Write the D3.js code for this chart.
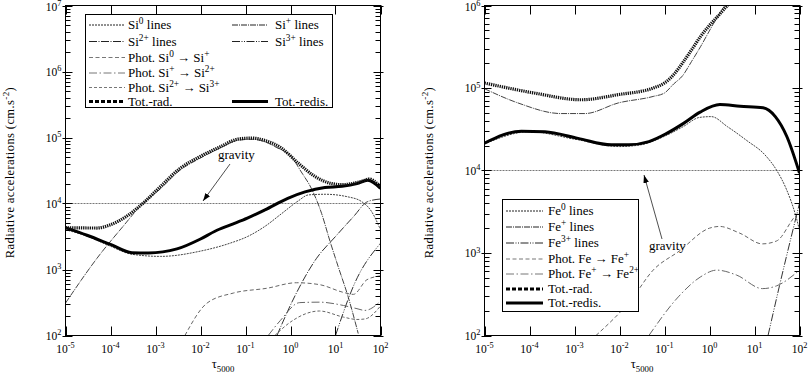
<!DOCTYPE html>
<html>
<head>
<meta charset="utf-8">
<script src="https://cdn.jsdelivr.net/npm/d3@7"></script>
<style>
  body { margin: 0; background: #fff; }
  svg { display: block; }
</style>
</head>
<body>
<svg id="chart" width="809" height="378"></svg>
<script>
// x axis: optical depth tau_5000, both panels
const tauTicks = [1e-5, 1e-4, 1e-3, 1e-2, 1e-1, 1e0, 1e1, 1e2];
const siTicks = [1e2, 1e3, 1e4, 1e5, 1e6, 1e7];
const feTicks = [1e2, 1e3, 1e4, 1e5, 1e6];
const gravity = 1e4;

// Si panel, [tau, g_rad] pairs
const siTotRad = [[1e-5,4300],[5e-5,4250],[9.5e-5,4700],[2.2e-4,6300],[5.2e-4,10000],[1.26e-3,17800],[3.5e-3,34000],[9.5e-3,51000],[2.7e-2,72000],[7e-2,95000],[0.14,98000],[0.27,90000],[0.63,69000],[1.48,41000],[3.5,25700],[8.3,20000],[14,19300],[32,21000],[45,22500],[55,23500],[100,18000]];
const siTotRedis = [[1e-5,4300],[3e-5,3300],[1e-4,2400],[3e-4,1800],[7e-4,1780],[3e-3,2050],[1e-2,2900],[2.1e-2,3800],[4.5e-2,4700],[0.11,6000],[0.27,8000],[0.87,12000],[2.1,15000],[5.8,17500],[14,18200],[30,20000],[52,22500],[100,17000]];
const siLines0 = [[1e-5,4000],[3e-5,3200],[1e-4,2250],[3e-4,1700],[1.3e-3,1580],[1e-2,1900],[4.5e-2,2500],[0.11,3150],[0.27,4500],[0.63,7000],[1.5,11000],[2.5,13500],[5.9,13800],[19,12600],[38,10700],[63,7600],[100,4000]];
const siLines1 = [[1e-5,310],[5.7e-5,1660],[1.9e-4,4500],[4.5e-4,9000],[1.26e-3,16500],[3.5e-3,32000],[9.5e-3,48000],[2.7e-2,69000],[7e-2,91000],[0.14,94000],[0.27,86000],[0.5,70000],[1.05,51000],[1.74,30000],[2.9,17000],[4.9,7100],[7.4,2800],[11.5,1100],[19,390],[32,107]];
const siLines2 = [[0.5,100],[1.26,400],[3.8,1480],[10,3160],[25,6300],[52,10700],[100,11700]];
const siLines3 = [[10,100],[27,630],[100,2500]];
const siPhot01 = [[4.5e-3,100],[1.4e-2,310],[5.4e-2,440],[0.3,520],[1.35,630],[4.4,590],[15,450],[25,420],[50,700],[100,800]];
const siPhot12 = [[0.32,100],[0.6,170],[1.6,315],[4.4,320],[15,285],[30,255],[45,240],[100,330]];
const siPhot23 = [[0.45,100],[1,160],[4.4,235],[15,190],[30,175],[45,178],[100,280]];

// Fe panel
const feTotRad = [[1e-5,115000],[1.26e-4,87000],[1.4e-3,72000],[9.3e-3,83000],[5.6e-2,100000],[0.1,115000],[0.16,145000],[0.25,200000],[0.4,290000],[0.63,420000],[1,575000],[1.6,760000],[2.5,1000000],[4,1260000]];
const feTotRedis = [[1e-5,21500],[6.6e-5,30000],[2.2e-4,29500],[1.2e-3,24500],[6.6e-3,20500],[1.6e-2,20500],[4.5e-2,22400],[0.11,28000],[0.26,37000],[0.62,51000],[1.7,63000],[4.8,60000],[15.5,57500],[29,45000],[52,26000],[100,9300]];
const feLines0 = [[1e-5,21000],[1e-4,29500],[1e-3,24000],[1e-2,19500],[3e-2,20500],[0.1,26000],[0.26,34000],[0.6,44000],[1.1,45000],[2.5,34000],[6.8,23000],[17,15500],[32,9800],[52,5800],[80,3000],[100,1900]];
const feLines1 = [[1e-5,98000],[5.5e-5,66000],[5e-4,49000],[1.7e-3,49000],[9.5e-3,66000],[5.6e-2,79000],[0.1,87000],[0.16,112000],[0.25,140000],[0.4,210000],[0.63,316000],[1.2,590000],[2.2,1000000],[3.5,1300000]];
const feLines3 = [[20,100],[37,430],[100,4000]];
const fePhot01 = [[3e-3,100],[1.8e-2,270],[5.6e-2,620],[0.21,1050],[1,2000],[1.66,2100],[4.7,1740],[15,1290],[31,1400],[87,2900],[100,3050]];
const fePhot12 = [[4.5e-2,100],[0.21,300],[0.62,510],[1.45,620],[4,540],[15,370],[31,400],[100,620]];

// line styles, shared by plot and legend
const styles = {
  lines0: { stroke: '#444', width: 1, dash: '2,1' },
  lines1: { stroke: '#444', width: 1, dash: '6,1,1,1' },
  lines2: { stroke: '#333', width: 1, dash: '8,1.5,1,1.5' },
  lines3: { stroke: '#333', width: 1, dash: '8,1.5,1,1.5,1,1.5' },
  phot01: { stroke: '#666', width: 1, dash: '4,2.5' },
  phot12: { stroke: '#666', width: 1, dash: '8,2.5,1.5,2.5' },
  phot23: { stroke: '#666', width: 1, dash: '3,2' },
  totRad: { stroke: '#111', width: 3.2, dash: '1.3,0.9', legendDash: '4,2' },
  totRedis: { stroke: '#000', width: 3, dash: null }
};

const svg = d3.select('#chart')
  .attr('font-family', '"Liberation Serif", "Times New Roman", Times, serif');

// writes strings like "10^{-5}" or "\u03c4_{5000}" as tspans
function richText(sel, str, size) {
  const parts = str.split(/(\^\{[^}]*\}|_\{[^}]*\})/).filter(s => s.length);
  let shift = 0;
  parts.forEach(p => {
    let dy = 0, txt = p, fs = size;
    if (p.startsWith('^{')) { txt = p.slice(2, -1); dy = -size * 0.36; fs = size * 0.72; }
    else if (p.startsWith('_{')) { txt = p.slice(2, -1); dy = size * 0.3; fs = size * 0.7; }
    sel.append('tspan').attr('dy', dy - shift).style('font-size', fs + 'px').text(txt);
    shift = dy;
  });
  return sel;
}

function drawPanel(p, id) {
  const x = d3.scaleLog().domain([1e-5, 1e2]).range([p.left, p.right]);
  const y = d3.scaleLog().domain(p.yDomain).range([p.bottom, p.top]);
  const g = svg.append('g');

  g.append('clipPath').attr('id', 'clip' + id)
    .append('rect')
    .attr('x', p.left).attr('y', p.top)
    .attr('width', p.right - p.left).attr('height', p.bottom - p.top);

  const plot = g.append('g').attr('clip-path', `url(#clip${id})`);

  // gravity reference
  plot.append('line')
    .attr('x1', p.left).attr('x2', p.right)
    .attr('y1', y(gravity)).attr('y2', y(gravity))
    .attr('stroke', '#555').attr('stroke-width', 0.8)
    .attr('stroke-dasharray', '2,1');

  const line = d3.line()
    .x(d => x(d[0]))
    .y(d => y(d[1]))
    .curve(d3.curveMonotoneX);

  p.series.forEach(s => {
    const st = styles[s.style];
    plot.append('path')
      .datum(s.data)
      .attr('d', line)
      .attr('fill', 'none')
      .attr('stroke', st.stroke)
      .attr('stroke-width', st.width)
      .attr('stroke-dasharray', st.dash)
      .attr('stroke-linejoin', 'round');
  });

  // frame
  g.append('rect')
    .attr('x', p.left).attr('y', p.top)
    .attr('width', p.right - p.left).attr('height', p.bottom - p.top)
    .attr('fill', 'none').attr('stroke', '#000').attr('stroke-width', 1);

  const ticks = g.append('g').attr('stroke', '#000').attr('stroke-width', 1);

  tauTicks.forEach(t => {
    const xx = Math.round(x(t)) + 0.5;
    ticks.append('line').attr('x1', xx).attr('x2', xx).attr('y1', p.top).attr('y2', p.top + 9);
    ticks.append('line').attr('x1', xx).attr('x2', xx).attr('y1', p.bottom).attr('y2', p.bottom - 9);
    richText(g.append('text')
      .attr('x', x(t)).attr('y', p.bottom + 17)
      .attr('text-anchor', 'middle'), '10^{' + Math.round(Math.log10(t)) + '}', 11.5);
  });

  p.yTicks.forEach((v, i) => {
    const yy = Math.round(y(v)) + 0.5;
    ticks.append('line').attr('x1', p.left - 3).attr('x2', p.left + 7).attr('y1', yy).attr('y2', yy);
    ticks.append('line').attr('x1', p.right + 3).attr('x2', p.right - 7).attr('y1', yy).attr('y2', yy);
    richText(g.append('text')
      .attr('x', p.left - 4).attr('y', Math.max(y(v) + 4, 10.5))
      .attr('text-anchor', 'end'), '10^{' + Math.round(Math.log10(v)) + '}', 11.5);
    if (i < p.yTicks.length - 1) {
      d3.range(2, 10).forEach(k => {
        const ym = Math.round(y(v * k)) + 0.5;
        ticks.append('line').attr('x1', p.left).attr('x2', p.left + 5).attr('y1', ym).attr('y2', ym);
        ticks.append('line').attr('x1', p.right).attr('x2', p.right - 5).attr('y1', ym).attr('y2', ym);
      });
    }
  });

  // axis titles
  richText(g.append('text')
    .attr('x', (p.left + p.right) / 2).attr('y', 368)
    .attr('text-anchor', 'middle'), '\u03c4_{5000}', 12.5);

  richText(g.append('text')
    .attr('transform', `translate(${p.left - 52},${(p.top + p.bottom) / 2 + 2}) rotate(-90)`)
    .attr('text-anchor', 'middle')
    .style('letter-spacing', '0.4px'), 'Radiative accelerations (cm.s^{-2})', 12.5);

  // gravity arrow
  const a = p.arrow;
  g.append('line')
    .attr('x1', a.from[0]).attr('y1', a.from[1])
    .attr('x2', a.to[0]).attr('y2', a.to[1])
    .attr('stroke', '#222').attr('stroke-width', 0.8)
    .attr('marker-end', 'url(#arrowHead)');
  g.append('text')
    .attr('x', a.text[0]).attr('y', a.text[1])
    .style('font-size', '13px')
    .text('gravity');

  // legend
  const L = p.legend;
  const lg = g.append('g');
  lg.append('rect')
    .attr('x', L.box[0] + 0.5).attr('y', L.box[1] + 0.5)
    .attr('width', L.box[2] - L.box[0]).attr('height', L.box[3] - L.box[1])
    .attr('fill', '#fff').attr('stroke', '#000').attr('stroke-width', 1);
  L.items.forEach(it => {
    const st = styles[it.style];
    const col = L.cols[it.col];
    const yy = L.rows[it.row];
    lg.append('line')
      .attr('x1', col[0]).attr('x2', col[1])
      .attr('y1', yy).attr('y2', yy)
      .attr('stroke', it.style.startsWith('tot') ? '#000' : (it.style.startsWith('phot') ? '#777' : '#222'))
      .attr('stroke-width', st.width)
      .attr('stroke-dasharray', st.legendDash || st.dash);
    richText(lg.append('text')
      .attr('x', col[2]).attr('y', yy + 4), it.label, 13);
  });
}

svg.append('defs').append('marker')
  .attr('id', 'arrowHead')
  .attr('viewBox', '0 0 10 10')
  .attr('refX', 10).attr('refY', 5)
  .attr('markerWidth', 8).attr('markerHeight', 8)
  .attr('markerUnits', 'userSpaceOnUse')
  .attr('orient', 'auto')
  .append('path')
  .attr('d', 'M0,1.5 L10,5 L0,8.5 Z')
  .attr('fill', '#000');

drawPanel({
  left: 65.5, right: 380.5, top: 5.5, bottom: 335.5,
  yDomain: [1e2, 1e7], yTicks: siTicks,
  series: [
    { data: siLines0, style: 'lines0' },
    { data: siLines1, style: 'lines1' },
    { data: siLines2, style: 'lines2' },
    { data: siLines3, style: 'lines3' },
    { data: siPhot01, style: 'phot01' },
    { data: siPhot12, style: 'phot12' },
    { data: siPhot23, style: 'phot23' },
    { data: siTotRedis, style: 'totRedis' },
    { data: siTotRad, style: 'totRad' }
  ],
  arrow: { from: [230, 164], to: [203, 201], text: [218, 159] },
  legend: {
    box: [85, 14, 332, 107],
    rows: [25, 41.5, 57.5, 73, 87.5, 101.5],
    cols: [[89, 125, 128], [232, 268, 275]],
    items: [
      { col: 0, row: 0, style: 'lines0', label: 'Si^{0} lines' },
      { col: 1, row: 0, style: 'lines1', label: 'Si^{+} lines' },
      { col: 0, row: 1, style: 'lines2', label: 'Si^{2+} lines' },
      { col: 1, row: 1, style: 'lines3', label: 'Si^{3+} lines' },
      { col: 0, row: 2, style: 'phot01', label: 'Phot. Si^{0} \u2192 Si^{+}' },
      { col: 0, row: 3, style: 'phot12', label: 'Phot. Si^{+} \u2192 Si^{2+}' },
      { col: 0, row: 4, style: 'phot23', label: 'Phot. Si^{2+} \u2192 Si^{3+}' },
      { col: 0, row: 5, style: 'totRad', label: 'Tot.-rad.' },
      { col: 1, row: 5, style: 'totRedis', label: 'Tot.-redis.' }
    ]
  }
}, 'Si');

drawPanel({
  left: 484.5, right: 799.5, top: 5.5, bottom: 335.5,
  yDomain: [1e2, 1e6], yTicks: feTicks,
  series: [
    { data: feLines0, style: 'lines0' },
    { data: feLines1, style: 'lines1' },
    { data: feLines3, style: 'lines3' },
    { data: fePhot01, style: 'phot01' },
    { data: fePhot12, style: 'phot12' },
    { data: feTotRedis, style: 'totRedis' },
    { data: feTotRad, style: 'totRad' }
  ],
  arrow: { from: [662, 239], to: [644, 175], text: [649, 250] },
  legend: {
    box: [502, 199, 638, 311],
    rows: [211, 227, 243, 259, 274, 289, 303],
    cols: [[506, 543, 548]],
    items: [
      { col: 0, row: 0, style: 'lines0', label: 'Fe^{0} lines' },
      { col: 0, row: 1, style: 'lines1', label: 'Fe^{+} lines' },
      { col: 0, row: 2, style: 'lines3', label: 'Fe^{3+} lines' },
      { col: 0, row: 3, style: 'phot01', label: 'Phot. Fe \u2192 Fe^{+}' },
      { col: 0, row: 4, style: 'phot12', label: 'Phot. Fe^{+} \u2192 Fe^{2+}' },
      { col: 0, row: 5, style: 'totRad', label: 'Tot.-rad.' },
      { col: 0, row: 6, style: 'totRedis', label: 'Tot.-redis.' }
    ]
  }
}, 'Fe');
</script>
</body>
</html>
